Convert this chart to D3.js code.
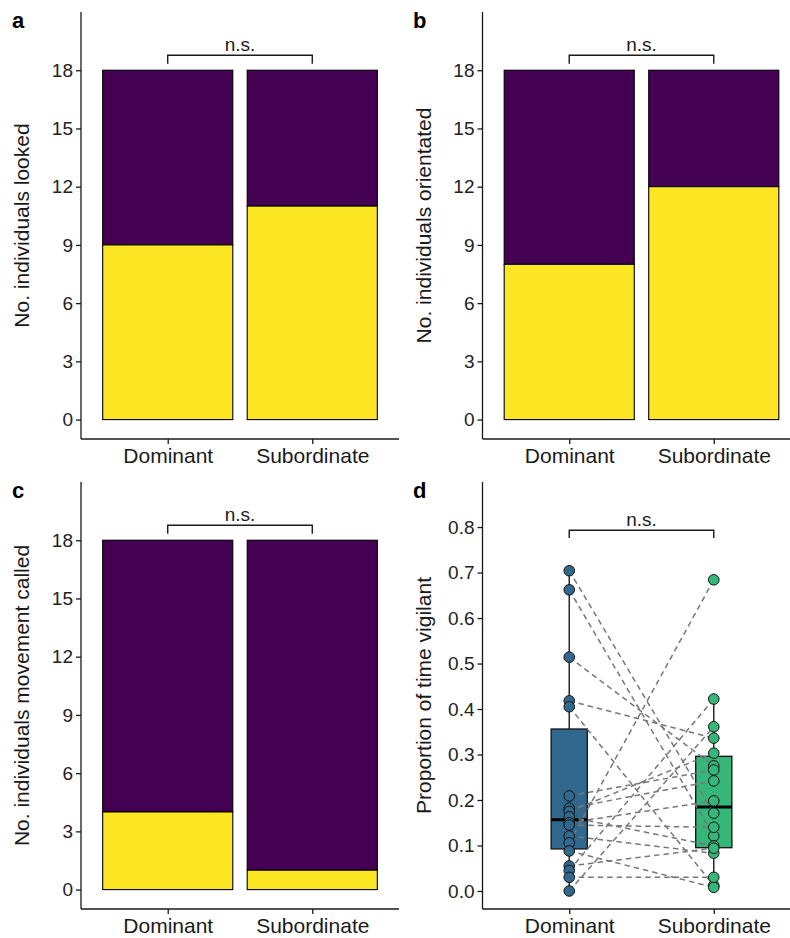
<!DOCTYPE html>
<html>
<head>
<meta charset="utf-8">
<script src="https://cdn.jsdelivr.net/npm/d3@7"></script>
<style>
  html, body { margin: 0; padding: 0; background: #fff; }
  svg { display: block; font-family: "Liberation Sans", Arial, sans-serif; }
</style>
</head>
<body>
<svg id="fig" width="790" height="938"></svg>
<script>
// Group labels and counts (out of 18 individuals per group)
const categories = ["Dominant", "Subordinate"];
const totals = [18, 18];
const lookedYes = [9, 11];
const orientedYes = [8, 12];
const calledYes = [4, 1];
const countTicks = [0, 3, 6, 9, 12, 15, 18];

// Proportion of time vigilant, paired by individual (same index = same pair)
const dominantProp   = [0.704, 0.662, 0.514, 0.418, 0.405, 0.209, 0.182, 0.175, 0.163,
                        0.150, 0.145, 0.121, 0.106, 0.088, 0.055, 0.045, 0.030, 0.000];
const subordinateProp = [0.171, 0.121, 0.275, 0.336, 0.012, 0.266, 0.242, 0.303, 0.099,
                        0.198, 0.140, 0.083, 0.684, 0.008, 0.094, 0.422, 0.030, 0.361];
const propTicks = [0, 0.1, 0.2, 0.3, 0.4, 0.5, 0.6, 0.7, 0.8];

const PURPLE = "#440154", YELLOW = "#FDE725";
const BOXCOL = ["#31688E", "#35B779"];
const INK = "#1a1a1a";

const svg = d3.select("#fig");

// Panel geometry: left axis x, top and bottom of plotting area
const cols = [81, 482.5];
const rows = [[12, 439], [482, 909]];
const panelW = 318;

function axes(g, x, y, ticks, fmt, left, top, bottom) {
  const ya = g.append("g").attr("transform", `translate(${left},0)`)
    .call(d3.axisLeft(y).tickValues(ticks).tickFormat(fmt).tickSize(5).tickPadding(3));
  ya.select(".domain").attr("d", `M0,${top}V${bottom}`);
  const xa = g.append("g").attr("transform", `translate(0,${bottom})`)
    .call(d3.axisBottom(x).tickValues([1, 2]).tickFormat((d, i) => categories[i]).tickSize(5).tickPadding(4));
  xa.select(".domain").attr("d", `M${left},0H${left + panelW}`);
  [ya, xa].forEach(a => {
    a.selectAll(".domain").attr("stroke", INK).attr("stroke-width", 1.3);
    a.selectAll(".tick line").attr("stroke", INK).attr("stroke-width", 1.3);
  });
  ya.selectAll("text").attr("font-size", 19).attr("fill", "#222");
  xa.selectAll("text").attr("font-size", 21).attr("fill", INK);
}

function yTitle(g, text, xBase, top, bottom) {
  g.append("text").attr("transform", `translate(${xBase},${(top + bottom) / 2}) rotate(-90)`)
    .attr("text-anchor", "middle").attr("font-size", 21).attr("fill", INK).text(text);
}

function tag(g, letter, x, y) {
  g.append("text").attr("x", x).attr("y", y).attr("font-size", 22)
    .attr("font-weight", "bold").attr("fill", "#000").text(letter);
}

function bracket(g, x, y, yBar, yEnd) {
  g.append("path")
    .attr("d", `M${x(1)},${y(yEnd)}V${y(yBar)}H${x(2)}V${y(yEnd)}`)
    .attr("fill", "none").attr("stroke", INK).attr("stroke-width", 1.4);
  g.append("text").attr("x", (x(1) + x(2)) / 2).attr("y", y(yBar) - 4)
    .attr("text-anchor", "middle").attr("font-size", 19).attr("fill", INK).text("n.s.");
}

function barPanel(yes, title, letter, col, row) {
  const left = cols[col], [top, bottom] = rows[row];
  const g = svg.append("g");
  const x = d3.scaleLinear().domain([0.4, 2.6]).range([left, left + panelW]);
  const y = d3.scaleLinear().domain([-1, 21]).range([bottom, top]);
  const stacks = categories.map((c, i) => ({ i, yes: yes[i], total: totals[i] }));
  // upper part (no), lower part (yes)
  g.selectAll("rect.no").data(stacks).join("rect")
    .attr("x", d => x(d.i + 1 - 0.45)).attr("width", x(1.45) - x(0.55))
    .attr("y", d => y(d.total)).attr("height", d => y(d.yes) - y(d.total))
    .attr("fill", PURPLE).attr("stroke", "#000").attr("stroke-width", 1.1);
  g.selectAll("rect.yes").data(stacks).join("rect")
    .attr("x", d => x(d.i + 1 - 0.45)).attr("width", x(1.45) - x(0.55))
    .attr("y", d => y(d.yes)).attr("height", d => y(0) - y(d.yes))
    .attr("fill", YELLOW).attr("stroke", "#000").attr("stroke-width", 1.1);
  axes(g, x, y, countTicks, d3.format("d"), left, top, bottom);
  bracket(g, x, y, 18.77, 18.34);
  yTitle(g, title, left - 52, top, bottom);
  tag(g, letter, col === 0 ? 12 : 413, row === 0 ? 28 : 498);
}

barPanel(lookedYes, "No. individuals looked", "a", 0, 0);
barPanel(orientedYes, "No. individuals orientated", "b", 1, 0);
barPanel(calledYes, "No. individuals movement called", "c", 0, 1);

// Panel d: paired boxplot
(function () {
  const left = cols[1], [top, bottom] = rows[1];
  const g = svg.append("g");
  const x = d3.scaleLinear().domain([0.4, 2.6]).range([left, left + panelW]);
  const y = d3.scaleLinear().domain([-0.0396, 0.899]).range([bottom, top]);
  const groups = [dominantProp, subordinateProp];
  const bw = 0.25;

  groups.forEach((vals, i) => {
    const s = vals.slice().sort(d3.ascending);
    const q1 = d3.quantile(s, 0.25), med = d3.quantile(s, 0.5), q3 = d3.quantile(s, 0.75);
    const iqr = q3 - q1;
    const hi = d3.max(s.filter(v => v <= q3 + 1.5 * iqr));
    const lo = d3.min(s.filter(v => v >= q1 - 1.5 * iqr));
    const cx = x(i + 1);
    g.append("line").attr("x1", cx).attr("x2", cx).attr("y1", y(q3)).attr("y2", y(hi))
      .attr("stroke", INK).attr("stroke-width", 1.4);
    g.append("line").attr("x1", cx).attr("x2", cx).attr("y1", y(q1)).attr("y2", y(lo))
      .attr("stroke", INK).attr("stroke-width", 1.4);
    g.append("rect").attr("x", x(i + 1 - bw / 2)).attr("width", x(1 + bw / 2) - x(1 - bw / 2))
      .attr("y", y(q3)).attr("height", y(q1) - y(q3))
      .attr("fill", BOXCOL[i]).attr("stroke", INK).attr("stroke-width", 1.4);
    g.append("line").attr("x1", x(i + 1 - bw / 2)).attr("x2", x(i + 1 + bw / 2))
      .attr("y1", y(med)).attr("y2", y(med)).attr("stroke", "#000").attr("stroke-width", 3);
  });

  // dashed lines joining each individual's two values
  g.selectAll("line.pair").data(dominantProp.map((d, i) => [d, subordinateProp[i]])).join("line")
    .attr("x1", x(1)).attr("x2", x(2))
    .attr("y1", d => y(d[0])).attr("y2", d => y(d[1]))
    .attr("stroke", "#777").attr("stroke-width", 1.5).attr("stroke-dasharray", "5.5,4");

  groups.forEach((vals, i) => {
    g.selectAll(`circle.g${i}`).data(vals).join("circle")
      .attr("cx", x(i + 1)).attr("cy", d => y(d)).attr("r", 5.3)
      .attr("fill", BOXCOL[i]).attr("stroke", "#111").attr("stroke-width", 1);
  });

  axes(g, x, y, propTicks, d3.format(".1f"), left, top, bottom);
  bracket(g, x, y, 0.793, 0.776);
  yTitle(g, "Proportion of time vigilant", left - 52, top, bottom);
  tag(g, "d", 413, 498);
})();
</script>
</body>
</html>
